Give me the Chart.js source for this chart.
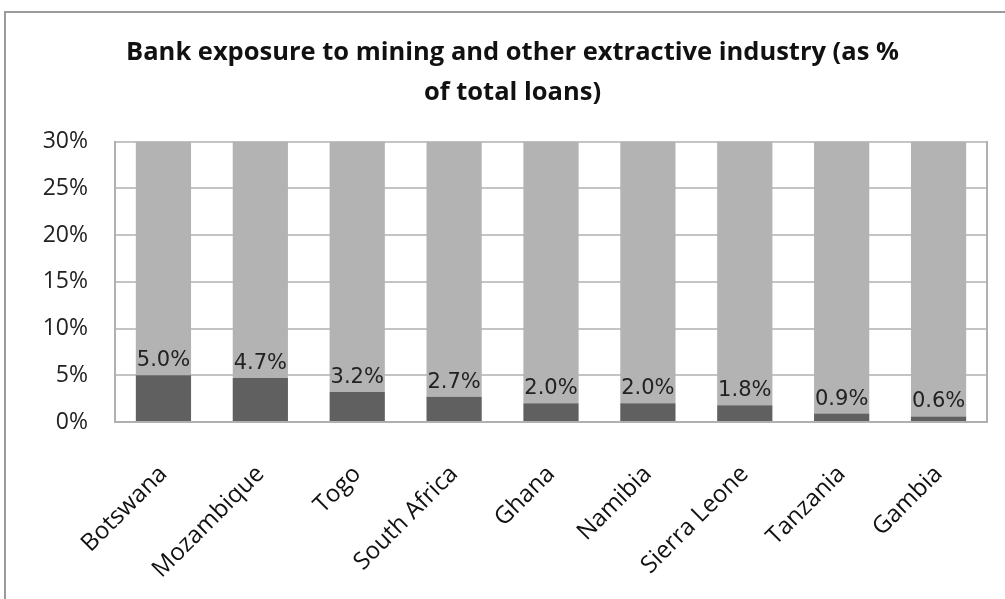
<!DOCTYPE html>
<html>
<head>
<meta charset="utf-8">
<title>Bank exposure to mining</title>
<script src="https://cdn.jsdelivr.net/npm/chart.js@4.4.1/dist/chart.umd.min.js"></script>
<style>
	html, body { margin: 0; padding: 0; background: #fff; overflow: hidden; }
	#frame { position: absolute; left: 4px; top: 11px; width: 1020px; height: 620px; border: 2px solid #9a9a9a; }
	#wrap { position: absolute; left: 0; top: 0; width: 1005px; height: 599px; }
</style>
</head>
<body>
<div id="frame"></div>
<div id="wrap"><canvas id="bar-chart"></canvas></div>
<script>
// data
var countries = ["Botswana", "Mozambique", "Togo", "South Africa", "Ghana", "Namibia", "Sierra Leone", "Tanzania", "Gambia"];
var exposure = [5.0, 4.7, 3.2, 2.7, 2.0, 2.0, 1.8, 0.9, 0.6];
var axisMax = 30;
var yTicks = [0, 5, 10, 15, 20, 25, 30];

// the light grey part fills each bar up to the axis top
var rest = [];
for (var i = 0; i < exposure.length; i++) {
	rest.push(axisMax - exposure[i]);
}

// value labels just above the dark bars
var valueLabels = {
	id : "valueLabels",
	afterDatasetsDraw : function(chart) {
		var ctx = chart.ctx;
		var meta = chart.getDatasetMeta(0);
		ctx.save();
		ctx.font = "21px 'DejaVu Sans'";
		ctx.fillStyle = "#222";
		ctx.textAlign = "center";
		ctx.textBaseline = "bottom";
		meta.data.forEach(function(bar, i) {
			ctx.fillText(exposure[i].toFixed(1) + "%", bar.x, bar.y - 4);
		});
		ctx.restore();
	}
};

var ctx = document.getElementById("bar-chart");

var data = {
	labels : countries,
	datasets : [
		{
			label : "Exposure",
			data : exposure,
			backgroundColor : "#606060",
			barPercentage : 0.57,
			categoryPercentage : 1
		},
		{
			label : "Rest",
			data : rest,
			backgroundColor : "#b3b3b3",
			barPercentage : 0.57,
			categoryPercentage : 1
		}
	]
};

var options = {
	responsive : true,
	maintainAspectRatio : false,
	animation : false,
	layout : { padding : { left : 20, right : 0, top : 0, bottom : 0 } },
	plugins : {
		legend : { display : false },
		tooltip : { enabled : false },
		title : {
			display : true,
			text : ["Bank exposure to mining and other extractive industry (as %", "of total loans)"],
			font : { family : "'Open Sans'", size : 25.5, weight : "bold", lineHeight : 1.56 },
			color : "#111",
			padding : { top : 33, bottom : 29 }
		}
	},
	scales : {
		x : {
			stacked : true,
			grid : { display : false },
			border : { color : "#b0b0b0", width : 2 },
			ticks : {
				color : "#111",
				font : { family : "'Open Sans'", size : 24 },
				minRotation : 45,
				maxRotation : 45,
				padding : 30
			},
			afterFit : function(scale) { scale.height = 177; }
		},
		y : {
			stacked : true,
			min : 0,
			max : axisMax,
			grid : { color : "#c4c4c4", lineWidth : 2, drawTicks : false },
			border : { color : "#b0b0b0", width : 2 },
			afterBuildTicks : function(scale) {
				scale.ticks = yTicks.map(function(v) { return { value : v }; });
			},
			ticks : {
				color : "#222",
				font : { family : "'Open Sans'", size : 23 },
				padding : 27,
				callback : function(v) { return v + "%"; }
			},
			afterFit : function(scale) { scale.width = 95; }
		},
		y2 : {
			position : "right",
			min : 0,
			max : axisMax,
			grid : { display : false },
			border : { color : "#b0b0b0", width : 2 },
			ticks : { display : false },
			afterFit : function(scale) { scale.width = 18; }
		}
	}
};

var chart = new Chart(ctx, {
	type : "bar",
	data : data,
	options : options,
	plugins : [valueLabels]
});
</script>
</body>
</html>
